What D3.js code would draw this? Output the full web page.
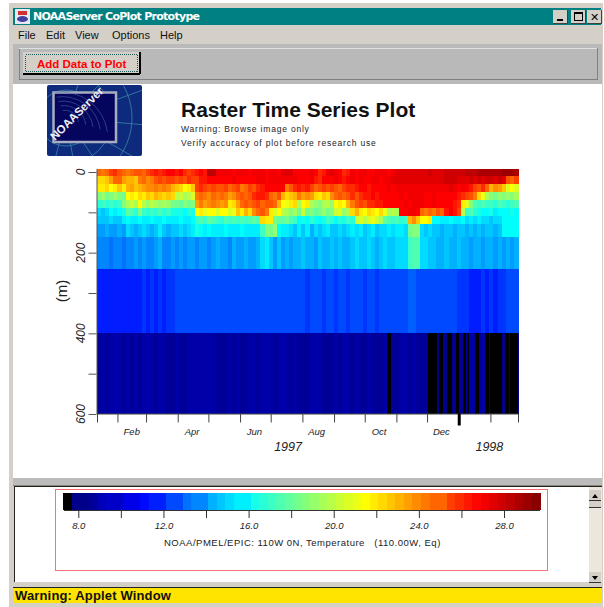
<!DOCTYPE html>
<html>
<head>
<meta charset="utf-8">
<script src="https://cdn.jsdelivr.net/npm/d3@7"></script>
<style>
body { margin: 0; background: #fff; }
text { font-family: "Liberation Sans", Arial, sans-serif; }
</style>
</head>
<body>
<div id="main"></div>
<script>
var depths = [0, 20, 40, 60, 80, 100, 120, 140, 180, 300, 500];
var depthEdges = [-7, 10, 30, 50, 70, 90, 110, 130, 160, 240, 400, 600];

var t0 = [24.6,24.2,24.8,25.4,25.8,25.0,24.6,24.4,24.8,25.2, 25.0,24.8,25.4,26.0,26.2,25.8,26.4,26.6,26.8,26.4, 26.6,26.0,25.6,25.8,26.2,26.6,26.4,28.2,28.4,27.2, 27.0,27.2,27.0,26.8,27.0,27.2,27.1,26.9,27.0,27.2, 27.0,26.9,27.2,27.0,26.8,27.3,27.6,27.3,26.8,26.5, 26.6,26.8,27.1,26.8,25.8,26.4,27.0,27.4,27.0,26.6, 26.0,26.4,27.0,26.8,27.0,27.2,26.9,26.7,27.0,27.2, 27.0,26.8,27.1,27.3,27.5,27.6,27.4,27.5,27.6,27.5, 27.5,27.7,27.6,27.5,27.6,27.8,27.9,28.0,27.8,27.9, 28.3,28.4,28.2,28.5,28.6,28.7,28.8,28.5,28.9,29.1,29.2,29.0,28.8];
var t20 = [22.4,22.2,22.8,23.6,24.6,24.8,23.4,23.0,23.2,22.8, 24.2,24.6,24.0,24.4,25.0,25.4,25.2,25.6,25.4,25.2, 25.6,25.2,25.8,25.6,25.4,26.2,26.4,26.6,26.8,26.6, 26.8,26.6,26.8,27.0,26.8,26.6,26.9,26.7,26.8,27.0, 27.0,26.8,27.0,27.1,27.0,27.2,27.0,27.2,27.0,26.8, 26.6,26.9,27.0,26.4,26.0,26.6,26.9,26.7,27.0,26.6, 26.4,26.8,27.0,26.8,27.0,26.9,26.7,27.0,27.1,26.8, 27.0,27.2,27.3,27.3,27.4,27.4,27.4,27.5,27.5,27.4, 27.4,27.5,27.6,27.4,27.5,27.7,27.9,27.8,27.6,27.5, 27.6,27.8,27.6,27.8,27.6,27.8,27.9,27.6,27.7,27.4,25.0,24.6,25.4];
var t40 = [22.0,21.8,22.2,21.6,22.0,22.6,21.8,23.2,23.6,22.8, 23.0,23.4,23.8,24.0,24.2,23.8,24.4,24.0,23.2,22.6, 22.2,21.6,22.0,22.6,25.4,25.8,25.6,25.2,25.6,25.0, 25.2,25.6,24.8,25.0,25.4,24.4,24.8,25.4,25.0,26.0, 26.4,26.6,26.8,26.5,26.8,26.6,24.2,25.0,26.0,26.2, 26.0,26.4,25.6,24.6,25.0,25.6,25.2,25.4,25.0,24.8, 25.4,25.8,26.0,26.4,26.6,26.8,26.4,26.8,26.6,26.9, 26.7,27.0,26.8,27.0,27.1,27.1,27.2,27.2,27.1,27.2, 27.1,27.0,27.2,27.2,27.0,27.2,27.3,27.0,26.8,27.0, 26.6,26.4,25.6,25.2,25.8,24.6,23.0,24.0,23.6,22.8,20.8,21.4,20.6];
var t60 = [18.6,19.0,18.4,18.8,19.2,18.6,18.4,21.6,22.0,21.4, 22.2,21.8,22.6,22.4,23.0,22.6,22.2,22.8,22.4,19.8, 20.2,19.6,20.0,20.6,24.4,24.8,24.4,24.0,24.8,24.2, 24.6,24.2,23.6,24.0,24.6,25.0,24.6,25.2,26.0,26.4, 26.2,25.8,24.8,24.4,25.2,23.0,22.4,22.8,23.0,24.2, 23.6,24.0,23.4,22.4,21.8,22.6,22.2,24.0,24.6,25.0, 24.6,25.2,25.8,25.2,26.0,26.4,26.2,26.6,26.4,26.7, 26.6,26.8,26.7,26.9,27.0,26.9,27.0,27.1,27.0,27.1, 26.9,26.8,27.0,26.9,26.8,26.6,26.9,26.5,26.2,26.0, 25.4,25.0,24.4,22.2,21.0,19.4,18.8,18.4,19.0,18.6,19.2,18.6,19.4];
var t80 = [16.6,17.0,16.8,17.2,16.8,17.0,18.8,19.4,20.4,19.6, 21.6,20.0,19.2,19.8,19.4,19.0,19.6,19.2,18.4,18.2, 18.0,18.6,18.2,18.8,23.6,24.2,23.4,23.8,24.4,24.0, 23.6,24.0,21.8,22.4,23.4,24.6,25.0,24.6,25.0,25.4, 24.8,25.2,25.0,24.6,23.0,21.6,21.0,21.8,22.4,19.6, 21.6,21.8,19.4,19.0,18.6,19.4,20.0,19.0,21.6,22.0, 21.6,23.0,24.2,25.0,25.6,25.2,26.0,25.8,26.2,26.4, 26.5,26.7,26.6,26.8,26.9,27.0,26.9,27.0,27.1,27.0, 26.8,26.9,27.0,26.8,26.6,26.5,26.8,26.2,26.0,21.8, 20.6,18.6,17.6,17.2,17.6,17.0,17.2,16.8,17.4,17.0,16.8,17.2,17.4];
var t100 = [15.0,14.8,15.2,15.8,15.6,16.0,16.4,18.0,17.6,16.8, 18.4,17.0,16.6,17.2,16.8,17.4,16.6,17.0,16.4,16.2, 16.4,16.0,16.6,16.2,21.4,21.8,21.2,21.6,21.4,20.8, 21.4,21.6,20.6,21.2,22.6,22.0,23.0,22.4,23.8,24.6, 25.0,24.4,22.0,20.8,21.6,20.0,19.4,18.8,19.6,18.4, 20.4,18.2,18.6,18.0,18.4,19.0,18.2,18.6,20.4,20.8, 19.0,19.6,22.2,23.0,22.0,21.6,22.4,21.8,21.4,22.2, 21.0,19.6,20.0,19.4,26.8,26.9,27.0,27.0,26.6,24.6, 24.2,24.8,24.4,25.2,24.8,26.4,26.8,26.4,25.4,19.8, 17.0,17.6,16.6,16.2,16.0,15.8,16.2,15.6,15.8,16.0,15.8,16.2,15.9];
var t120 = [14.6,14.8,14.6,15.0,14.8,14.6,15.4,15.8,15.4,15.6, 15.8,15.6,15.4,15.8,15.6,15.4,15.8,15.7,15.5,15.6, 15.8,15.6,15.4,15.8,17.0,17.6,17.2,17.8,17.4,17.0, 16.8,17.4,17.0,17.6,17.2,17.6,17.0,17.4,18.0,17.6, 22.4,22.0,21.8,18.4,17.8,18.0,18.2,17.6,17.2,16.0, 16.4,15.8,16.6,16.2,15.8,16.4,17.0,16.8,16.0,16.6, 16.2,17.0,16.6,20.4,20.8,19.8,20.6,21.0,20.4,19.4, 18.0,17.6,17.0,17.4,16.6,17.0,23.2,24.0,22.8,21.6, 21.4,21.8,15.8,16.0,15.6,15.4,15.8,15.6,15.4,15.8, 15.2,15.6,15.0,15.4,15.0,15.2,14.8,15.2,15.0,15.8,15.9,15.8,15.8];
var t140 = [14.0,13.8,14.2,14.0,13.8,14.2,14.0,15.2,14.6,14.2, 14.8,15.2,14.6,14.2,14.8,15.4,14.6,14.2,14.8,14.6, 15.0,14.8,15.2,15.4,16.4,16.0,15.6,15.8,15.5,15.6, 15.4,15.8,15.5,15.7,15.4,15.8,15.5,15.7,15.4,15.6, 17.0,18.6,18.2,19.0,16.0,15.6,15.4,15.0,14.8,15.4, 14.6,15.6,14.4,15.0,14.8,15.2,15.5,14.8,14.6,15.2, 14.8,15.0,15.4,15.2,15.6,14.8,15.0,15.4,14.8,15.2, 15.0,15.4,15.2,15.6,15.4,15.0,18.4,18.8,18.6,15.0, 14.8,15.0,14.6,14.8,14.4,14.8,14.6,14.4,14.8,14.6, 14.4,14.8,14.2,14.6,14.4,14.8,14.6,14.4,14.8,15.8,15.9,15.8,15.8];
var t180 = [13.4,13.6,13.4,13.2,13.6,13.4,13.2,13.6,13.4,13.8, 13.6,14.0,13.6,13.4,13.8,14.2,13.6,13.4,13.8,13.6, 13.8,13.6,14.0,13.8,13.6,14.0,13.8,13.6,14.0,14.2, 13.8,14.0,13.6,14.2,13.8,14.0,14.2,13.8,14.0,14.2, 15.2,15.4,14.8,14.0,14.6,14.0,14.2,14.0,14.4,14.2, 14.8,14.2,14.4,14.0,14.6,14.2,14.4,14.8,14.2,14.6, 14.2,14.4,14.8,15.0,14.6,14.8,15.2,14.6,14.4,14.8, 15.0,14.6,14.8,15.0,15.2,15.0,17.2,17.6,17.4,15.2, 15.0,14.6,14.8,14.4,14.2,14.6,14.2,14.4,14.6,14.2, 14.4,14.0,14.2,14.4,14.0,14.2,14.4,14.0,14.2,14.0,14.2,14.0,14.2];
var t300 = [11.4,11.4,11.4,11.4,11.4,11.6,11.6,11.4,11.6,11.6, 11.6,11.8,11.6,11.8,11.6,11.8,11.6,12.0,11.8,12.2, 12.4,12.2,12.4,12.2,12.4,12.2,12.4,12.2,12.4,12.4, 12.2,12.4,12.2,12.4,12.2,12.4,12.4,12.2,12.4,12.4, 12.4,12.2,12.4,12.4,12.2,12.4,12.2,12.4,12.2,12.4, 12.2,12.0,12.4,12.2,12.4,12.0,12.2,12.4,12.0,12.2, 12.4,12.0,12.2,12.4,12.2,12.0,12.4,12.2,12.0,12.2, 12.4,12.2,12.4,12.2,12.4,12.2,12.6,12.6,12.4,12.2, 12.4,12.2,12.4,12.2,12.4,12.2,12.4,12.2,12.0,12.0, 11.8,11.6,11.4,11.6,11.8,11.6,11.8,11.4,11.8,12.0,12.2,12.2,12.2];
var t500 = [8.4,8.6,8.4,8.6,8.8,8.6,8.4,8.6,8.4,8.6, 8.2,8.6,8.8,8.6,8.4,8.8,8.6,8.4,8.4,8.6, 8.2,8.4,8.6,8.8,8.8,8.8,8.8,8.6,8.8,8.4, 8.2,8.4,8.6,8.4,8.6,8.2,8.4,8.6,8.8,8.4, 8.6,8.8,8.6,8.4,8.6,8.8,8.6,8.4,8.6,8.4, 8.2,8.4,8.6,8.8,8.6,8.4,8.2,8.4,8.6,8.4, 8.8,8.6,8.4,8.6,8.2,8.4,8.6,8.4,8.2,8.4, 8.6,8.4,8.2,8.4,8.6,8.6,8.4,8.6,8.2,8.4, 8.2,8.0,8.0,8.0,8.2,8.0,8.0,8.2,8.4,8.2, 8.4,8.6,8.2,8.4,8.6,8.4,8.2,8.4,8.2,8.0,8.0,8.2,8.0];
var tempRows = [t0, t20, t40, t60, t80, t100, t120, t140, t180, t300, t500];

// below-range stretches of the 500 m level, drawn black
var missing500 = [["1997-10-23","1997-10-27"],["1997-12-02","1997-12-11"],["1997-12-13","1997-12-17"],["1997-12-21","1997-12-25"],["1997-12-29","1998-01-01"],["1998-01-05","1998-01-08"],["1998-01-09","1998-01-11"],["1998-01-17","1998-01-21"],["1998-01-27","1998-01-31"],["1998-02-01","1998-02-12"],["1998-02-15","1998-02-19"],["1998-02-20","1998-02-28"]];

var depthTicks = [0, 100, 200, 300, 400, 500, 600];
var depthLabels = [0, 200, 400, 600];
var monthLabels = ["Feb","Apr","Jun","Aug","Oct","Dec"];
var monthLabelDates = ["1997-02-15","1997-04-15","1997-06-15","1997-08-15","1997-10-15","1997-12-15"];
var yearLabels = [["1997","1997-07-18"],["1998","1998-01-31"]];
var colorTicks = [8, 10, 12, 14, 16, 18, 20, 22, 24, 26, 28];
var colorStops = [7.7, 10.9, 15.8, 18.6, 21.5, 26.8, 29.7];
var colorRange = ["#000082", "#0000ff", "#00ffff", "#80ff80", "#ffff00", "#ff0000", "#800000"];

var parseDate = d3.utcParse("%Y-%m-%d");
var dayStep = 4;
var start = parseDate("1997-01-12");
var end = parseDate("1998-02-28");

var svg = d3.select("#main").append("svg")
	.attr("width", 604)
	.attr("height", 607)
	.style("display", "block");

// the source is a soft screenshot, so the raster gets a slight blur
svg.append("defs").append("filter").attr("id", "soft")
	.attr("x", 0).attr("y", 0).attr("width", 1).attr("height", 1)
	.append("feGaussianBlur").attr("stdDeviation", "0.6 0.3");

// window chrome
function box(x, y, w, h, fill, stroke) {
	return svg.append("rect").attr("x", x).attr("y", y).attr("width", w).attr("height", h)
		.attr("fill", fill).attr("stroke", stroke || "none").attr("shape-rendering", "crispEdges");
}
function label(x, y, str, size) {
	return svg.append("text").attr("x", x).attr("y", y).attr("font-size", size).text(str);
}

box(9, 3, 594, 604, "#d4d0c8");
box(13, 8, 588, 17, "#008080");
box(13, 25, 589, 19, "#d4d0c8");
box(13, 44, 589, 40, "#b9b9b9");
box(19.5, 48.5, 578, 31, "#b9b9b9", "#808080");
box(19, 48, 578, 1, "#e0e0e0");
box(13, 84, 589, 394, "#fff");
box(13, 478, 589, 8, "#bcbcbc");
box(13, 485, 589, 1, "#8a8578");
box(14, 486, 588, 96, "#fff");
box(14, 486, 588, 1, "#222");
box(14, 486, 1, 96, "#222");
box(13, 587, 589, 1, "#222");
box(14, 588, 588, 15, "#ffe400");

// title bar
svg.append("rect").attr("x", 15).attr("y", 9).attr("width", 15).attr("height", 15).attr("fill", "#e8e8f4");
svg.append("ellipse").attr("cx", 22.5).attr("cy", 19).attr("rx", 5.5).attr("ry", 3).attr("fill", "#4040a0");
svg.append("path").attr("d", "M18 11h9v4h-9z").attr("fill", "#d03030");
label(33, 20, "NOAAServer CoPlot Prototype", 11).attr("fill", "#fff").attr("font-weight", "bold")
	.style("font-family", "DejaVu Sans").attr("textLength", 167);
[553, 570.5, 587].forEach(function(x) {
	box(x, 9.5, 15, 14, "#d4d0c8");
	box(x, 22.5, 15, 1, "#404040");
	box(x + 14, 9.5, 1, 14, "#404040");
});
box(557, 19, 6, 2, "#000");
svg.append("rect").attr("x", 574.5).attr("y", 12.5).attr("width", 8).attr("height", 8).attr("fill", "none").attr("stroke", "#000");
box(574, 12, 9, 2, "#000");
label(590, 21, "✕", 11).attr("font-weight", "bold").style("font-family", "DejaVu Sans");

// menu
var menuItems = [["File", 18], ["Edit", 46], ["View", 75], ["Options", 112], ["Help", 160]];
menuItems.forEach(function(m) { label(m[1], 39, m[0], 11).attr("fill", "#111"); });

// button
box(23, 52, 117, 22, "#d4d0c8");
box(23, 73, 117, 1.5, "#000");
box(139, 52, 1.5, 22, "#000");
svg.append("rect").attr("x", 25.5).attr("y", 54.5).attr("width", 112).attr("height", 17)
	.attr("fill", "none").attr("stroke", "#1a5a5a").attr("stroke-dasharray", "1,1").attr("shape-rendering", "crispEdges");
label(37, 68, "Add Data to Plot", 11.5).attr("fill", "#ff0000").attr("font-weight", "bold");

// logo
var logo = svg.append("g");
logo.append("rect").attr("x", 47).attr("y", 85).attr("width", 95).attr("height", 71).attr("rx", 2).attr("fill", "#0d2a7c");
var logoClip = logo.append("clipPath").attr("id", "logoClip");
logoClip.append("rect").attr("x", 47).attr("y", 85).attr("width", 95).attr("height", 71);
var grid = logo.append("g").attr("clip-path", "url(#logoClip)").attr("fill", "none").attr("stroke", "#3a86a8").attr("stroke-width", 0.8);
[28, 46, 66, 88, 112].forEach(function(r) {
	grid.append("circle").attr("cx", 66).attr("cy", 118).attr("r", r);
});
[-70, -45, -20, 5, 30, 55, 80, 105].forEach(function(a) {
	var rad = a * Math.PI / 180;
	grid.append("line").attr("x1", 66).attr("y1", 118)
		.attr("x2", 66 + 120 * Math.cos(rad)).attr("y2", 118 + 120 * Math.sin(rad));
});
logo.append("rect").attr("x", 53.5).attr("y", 92.5).attr("width", 62.5).attr("height", 49.5).attr("fill", "#05055e").attr("stroke", "#a8aec0").attr("stroke-width", 2.5);
var grid2 = logo.append("g").attr("fill", "none").attr("stroke", "#4a78a8").attr("stroke-width", 0.5);
[14, 22, 30, 38, 46].forEach(function(r) {
	grid2.append("path").attr("d", "M" + (66 - r * 0.25) + " " + (118 - r * 0.55) + " A" + r + " " + r + " 0 0 1 " + (66 + r * 0.9) + " " + (118 + r * 0.3));
});
logo.append("text").attr("transform", "translate(55,141) rotate(-45)").attr("font-size", 11.5)
	.attr("fill", "#eeeef4").attr("font-weight", "bold").text("NOAAServer");

// headings
label(181, 117, "Raster Time Series Plot", 21).attr("font-weight", "bold").attr("fill", "#111");
label(181, 132, "Warning: Browse image only", 8.5).attr("fill", "#222").attr("letter-spacing", "0.8px");
label(181, 146, "Verify accuracy of plot before research use", 8.5).attr("fill", "#222").attr("letter-spacing", "0.8px");

// scales
var x = d3.scaleUtc().domain([start, end]).range([97, 518]);
var y = d3.scaleLinear().domain([0, 600]).range([172, 414]);
var color = d3.scaleLinear().domain(colorStops).range(colorRange);
var colorStep = 0.4;
function binned(v) {
	return color(colorStops[0] + (Math.floor((v - colorStops[0]) / colorStep) + 0.5) * colorStep);
}

// raster
var cells = [];
tempRows.forEach(function(row, r) {
	row.forEach(function(v, c) {
		cells.push({r: r, date: d3.utcDay.offset(start, c * dayStep), value: v});
	});
});
var raster = svg.append("g").attr("filter", "url(#soft)");
raster.append("g").attr("shape-rendering", "crispEdges")
	.selectAll("rect")
	.data(cells)
	.join("rect")
		.attr("x", d => x(d.date))
		.attr("y", d => y(depthEdges[d.r]))
		.attr("width", d => x(d3.utcDay.offset(d.date, dayStep)) - x(d.date) + 0.5)
		.attr("height", d => y(depthEdges[d.r + 1]) - y(depthEdges[d.r]))
		.attr("fill", d => binned(d.value));

raster.append("g").attr("shape-rendering", "crispEdges")
	.selectAll("rect")
	.data(missing500)
	.join("rect")
		.attr("x", d => x(parseDate(d[0])))
		.attr("y", y(depthEdges[10]))
		.attr("width", d => x(parseDate(d[1])) - x(parseDate(d[0])))
		.attr("height", y(depthEdges[11]) - y(depthEdges[10]))
		.attr("fill", "#000");

// axes
var yAxis = svg.append("g")
	.attr("transform", "translate(96.5,0)")
	.call(d3.axisLeft(y).tickValues(depthTicks).tickSize(8).tickFormat(""));
yAxis.selectAll("path,line").attr("stroke", "#555");
yAxis.select("path").attr("d", "M0.5," + y(-7) + "V" + y(600));

svg.append("g").selectAll("text")
	.data(depthLabels)
	.join("text")
		.attr("transform", d => "translate(85," + y(d) + ") rotate(-90)")
		.attr("text-anchor", "middle")
		.attr("font-size", 12)
		.attr("fill", "#222")
		.attr("font-style", "italic")
		.text(d => d);

svg.append("text").attr("transform", "translate(67,291) rotate(-90)")
	.attr("text-anchor", "middle").attr("font-size", 15).attr("fill", "#222").text("(m)");

var months = d3.utcMonth.range(parseDate("1997-02-01"), end);
var xAxis = svg.append("g")
	.attr("transform", "translate(0,413.5)")
	.call(d3.axisBottom(x).tickValues(months).tickSize(9).tickFormat(""));
xAxis.selectAll("path,line").attr("stroke", "#444");
xAxis.selectAll("line").filter(d => d.getUTCMonth() === 0).attr("stroke", "#000").attr("stroke-width", 3).attr("y2", 12);

svg.append("g").selectAll("text")
	.data(monthLabels)
	.join("text")
		.attr("x", (d, i) => x(parseDate(monthLabelDates[i])))
		.attr("y", 435)
		.attr("text-anchor", "middle")
		.attr("font-size", 9.5)
		.attr("font-style", "italic")
		.attr("fill", "#222")
		.text(d => d);

svg.append("g").selectAll("text")
	.data(yearLabels)
	.join("text")
		.attr("x", d => x(parseDate(d[1])))
		.attr("y", 451)
		.attr("text-anchor", "middle")
		.attr("font-size", 12.5)
		.attr("font-style", "italic")
		.attr("fill", "#222")
		.text(d => d[0]);

// colour bar
svg.append("rect").attr("x", 55.5).attr("y", 489.5).attr("width", 492).attr("height", 81)
	.attr("fill", "none").attr("stroke", "#f87078").attr("shape-rendering", "crispEdges");
var barScale = d3.scaleLinear().domain([8, 28]).range([78.3, 504]);
var levels = d3.range(colorStops[0], colorStops[6] - 0.01, colorStep);
svg.append("rect").attr("x", barScale(colorStops[0] - colorStep)).attr("y", 493)
	.attr("width", barScale(colorStops[0]) - barScale(colorStops[0] - colorStep)).attr("height", 17)
	.attr("fill", "#000").attr("shape-rendering", "crispEdges");
svg.append("g").attr("shape-rendering", "crispEdges")
	.selectAll("rect")
	.data(levels)
	.join("rect")
		.attr("x", d => barScale(d))
		.attr("y", 493)
		.attr("width", d => barScale(d + colorStep) - barScale(d) + 0.5)
		.attr("height", 17)
		.attr("fill", d => binned(d));
var barAxis = svg.append("g")
	.attr("transform", "translate(0,510)")
	.call(d3.axisBottom(barScale).tickValues(colorTicks).tickSize(8).tickFormat(d => d % 4 === 0 ? d.toFixed(1) : ""));
barAxis.select("path").attr("d", "M64,0.5H540").attr("stroke", "#333");
barAxis.selectAll("line").attr("stroke", "#333");
barAxis.selectAll("text").attr("y", 12).attr("dy", "0.71em").attr("font-size", 9.5).attr("font-style", "italic")
	.attr("fill", "#222").style("font-family", "Liberation Sans");
label(164, 546, "NOAA/PMEL/EPIC: 110W 0N, Temperature   (110.00W, Eq)", 9.5).attr("fill", "#222")
	.attr("letter-spacing", "0.5px").style("white-space", "pre");

// scrollbar
box(589, 487, 13, 95, "#ece6dc");
[[490, "M592 498h6l-3-4z"], [572, "M592 576h6l-3 4z"]].forEach(function(b) {
	box(589, b[0], 12, 11, "#d4d0c8");
	box(589, b[0] + 10, 12, 1, "#333");
	svg.append("path").attr("d", b[1]).attr("fill", "#000");
});
box(589, 501, 12, 7, "#d4d0c8");
box(589, 507, 12, 1, "#333");

// status bar
label(15, 600, "Warning: Applet Window", 13).attr("font-weight", "bold").attr("fill", "#111").attr("letter-spacing", "0.15px");
</script>
</body>
</html>
